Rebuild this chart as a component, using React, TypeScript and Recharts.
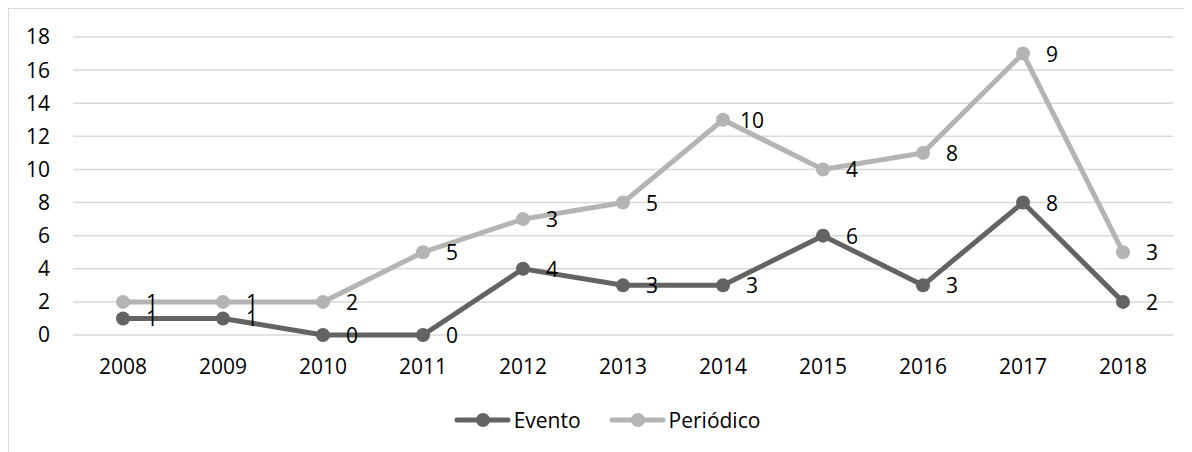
import React from 'react';
import { LineChart, Line, XAxis, YAxis, CartesianGrid, Legend, LabelList } from 'recharts';

const years = ['2008', '2009', '2010', '2011', '2012', '2013', '2014', '2015', '2016', '2017', '2018'];
const evento = [1, 1, 0, 0, 4, 3, 3, 6, 3, 8, 2];
const periodico = [1, 1, 2, 5, 3, 5, 10, 4, 8, 9, 3];
const yTicks = [0, 2, 4, 6, 8, 10, 12, 14, 16, 18];

const EVENTO_COLOR = '#636363';
const PERIODICO_COLOR = '#b4b4b4';
const FONT = "'Open Sans', sans-serif";
const FS = 21;

// Stacked line chart: Periódico sits on top of Evento
const data = years.map((y, i) => ({
  year: y,
  evento: evento[i],
  periodico: periodico[i],
  periodicoStack: evento[i] + periodico[i],
}));

const makeLabel = (values: number[]) => (props: any) => {
  const { x, y, index } = props;
  return (
    <text
      x={x + 29}
      y={y}
      textAnchor="middle"
      dominantBaseline="central"
      fontFamily={FONT}
      fontSize={FS}
      fill="#000"
    >
      {values[index]}
    </text>
  );
};

const legendItems = [
  { name: 'Evento', color: EVENTO_COLOR },
  { name: 'Periódico', color: PERIODICO_COLOR },
];

const LegendContent = () => (
  <div
    style={{
      display: 'flex',
      justifyContent: 'center',
      alignItems: 'center',
      height: 30,
      fontFamily: FONT,
      fontSize: FS,
      color: '#000',
      paddingLeft: 18,
    }}
  >
    {legendItems.map((it, i) => (
      <div key={it.name} style={{ display: 'flex', alignItems: 'center', marginLeft: i === 0 ? 0 : 28 }}>
        <svg width={58} height={18} style={{ display: 'block' }}>
          <line x1={3} y1={9} x2={54} y2={9} stroke={it.color} strokeWidth={5} strokeLinecap="round" />
          <circle cx={29} cy={9} r={7} fill={it.color} />
        </svg>
        <span style={{ marginLeft: 2, lineHeight: '30px' }}>{it.name}</span>
      </div>
    ))}
  </div>
);

export default function App() {
  return (
    <div
      style={{
        width: 1190,
        height: 452,
        border: '1.5px solid #d9d9d9',
        boxSizing: 'content-box',
        background: '#fff',
      }}
    >
      <LineChart
        width={1190}
        height={450}
        data={data}
        margin={{ top: 28, right: 26, bottom: 24, left: 14 }}
      >
        <CartesianGrid horizontal vertical={false} stroke="#d9d9d9" strokeWidth={1.5} />
        <XAxis
          dataKey="year"
          axisLine={false}
          tickLine={false}
          tickSize={0}
          tickMargin={24}
          height={70}
          padding={{ left: 50, right: 50 }}
          tick={{ fontFamily: FONT, fontSize: FS, fill: '#000' }}
          interval={0}
        />
        <YAxis
          domain={[0, 18]}
          ticks={yTicks}
          axisLine={false}
          tickLine={false}
          tickSize={0}
          tickMargin={23}
          width={50}
          tick={{ fontFamily: FONT, fontSize: FS, fill: '#000' }}
          interval={0}
        />
        <Legend verticalAlign="bottom" content={<LegendContent />} />
        <Line
          type="linear"
          dataKey="evento"
          name="Evento"
          stroke={EVENTO_COLOR}
          strokeWidth={5}
          dot={{ r: 7, fill: EVENTO_COLOR, stroke: EVENTO_COLOR, strokeWidth: 0 }}
          activeDot={false}
          isAnimationActive={false}
        >
          <LabelList dataKey="evento" content={makeLabel(evento)} />
        </Line>
        <Line
          type="linear"
          dataKey="periodicoStack"
          name="Periódico"
          stroke={PERIODICO_COLOR}
          strokeWidth={5}
          dot={{ r: 7, fill: PERIODICO_COLOR, stroke: PERIODICO_COLOR, strokeWidth: 0 }}
          activeDot={false}
          isAnimationActive={false}
        >
          <LabelList dataKey="periodico" content={makeLabel(periodico)} />
        </Line>
      </LineChart>
    </div>
  );
}
